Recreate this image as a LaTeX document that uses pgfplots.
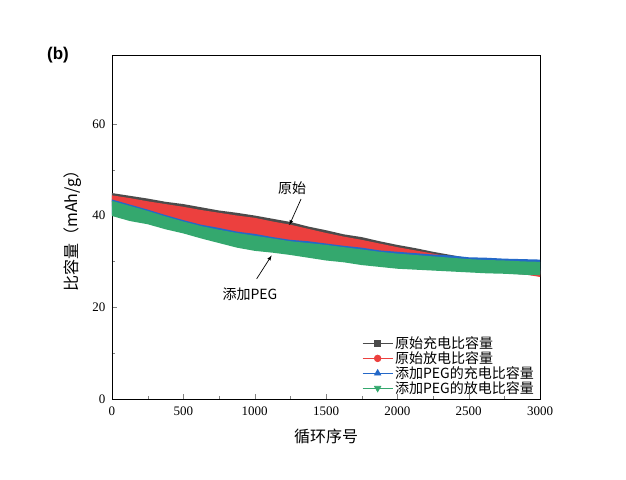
\documentclass[border=0pt]{standalone}
\usepackage{pgfplots}
\pgfplotsset{compat=1.18}
\usepackage{fontspec}
\setmainfont{Liberation Serif}
\newfontfamily\cjk{Noto Sans CJK SC}
\newfontfamily\arialb{Liberation Sans}
\definecolor{cblk}{RGB}{75,75,75}
\definecolor{cred}{RGB}{236,64,62}
\definecolor{cblue}{RGB}{36,104,200}
\definecolor{cgreen}{RGB}{52,168,110}
\begin{document}
\begin{tikzpicture}[x=1pt,y=1pt]
\path[use as bounding box] (-112,-80) rectangle (514,399);
\begin{axis}[
  at={(0,0)}, anchor=south west,
  scale only axis, width=428pt, height=344pt,
  xmin=0, xmax=3000, ymin=0, ymax=75,
  xtick={0,500,...,3000}, ytick={0,20,40,60},
  minor x tick num=1, minor y tick num=1,
  tick align=inside, xtick pos=bottom, ytick pos=left,
  major tick length=5pt, minor tick length=3pt,
  tick label style={font=\fontsize{13}{14}\selectfont},
  xticklabel style={yshift=-4pt},
  yticklabel style={xshift=-3pt},
  /pgf/number format/assume math mode=true,
  /pgf/number format/1000 sep={},
  xlabel={\cjk\fontsize{16}{17}\selectfont 循环序号},
  ylabel={\cjk\fontsize{16}{17}\selectfont 比容量（mAh/g）},
  xlabel style={at={(axis description cs:0.5,-0.108)}, anchor=center},
  ylabel style={at={(axis description cs:-0.091,0.5)}, anchor=center},
  axis line style={line width=0.8pt},
  legend style={at={(rel axis cs:1,0)}, anchor=south east, xshift=-3pt, yshift=1pt,
    draw=none, fill=none,
    font=\cjk\fontsize{14}{15}\selectfont, row sep=-2.5pt, inner sep=1pt},
  legend cell align=left,
  legend image code/.code={\draw[mark repeat=2,mark phase=2,#1] plot coordinates {(0pt,0pt)(15pt,0pt)(30pt,0pt)};},
]
% original charge (black)
\addplot[fill=cblk, draw=none, forget plot] coordinates {
(0,44.9) (125,44.3) (250,43.7) (375,43.0) (500,42.5) (625,41.8) (750,41.1) (875,40.6) (1000,40.0) (1125,39.3) (1250,38.6) (1375,37.6) (1500,36.8) (1625,35.9) (1750,35.3) (1875,34.4) (2000,33.6) (2125,32.9) (2250,32.1) (2375,31.4) (2500,30.7) (2625,30.0) (2750,29.4) (2875,28.9) (3000,28.4)
(3000,26.8) (2750,27.5) (2500,28.8) (2250,30.2) (2000,31.6) (1750,33.2) (1500,34.7) (1250,36.5) (1000,37.9) (750,39.1) (500,40.4) (250,41.6) (0,42.9)} -- cycle;
% original discharge (red)
\addplot[fill=cred, draw=none, forget plot] coordinates {
(0,44.4) (125,43.8) (250,43.1) (375,42.5) (500,41.9) (625,41.2) (750,40.6) (875,40.0) (1000,39.5) (1125,38.7) (1250,38.0) (1375,37.1) (1500,36.2) (1625,35.4) (1750,34.7) (1875,33.9) (2000,33.1) (2125,32.4) (2250,31.7) (2375,31.0) (2500,30.3) (2625,29.6) (2750,29.0) (2875,28.5) (3000,28.0)
(3000,26.6) (2875,27.3) (2750,28.0) (2625,28.6) (2500,29.2) (2375,29.8) (2250,30.3) (2125,30.8) (2000,31.3) (1875,31.8) (1750,32.3) (1625,32.8) (1500,33.3) (1375,33.7) (1250,34.2) (1125,34.7) (1000,35.2) (875,35.8) (750,36.5) (625,37.3) (500,38.2) (375,39.1) (250,40.0) (125,41.0) (0,42.0)} -- cycle;
% PEG charge (blue)
\addplot[fill=cblue, draw=none, forget plot] coordinates {
(0,43.5) (125,42.4) (250,41.3) (375,40.1) (500,39.0) (625,38.0) (750,37.3) (875,36.5) (1000,36.0) (1125,35.3) (1250,34.7) (1375,34.4) (1500,33.9) (1625,33.4) (1750,33.0) (1875,32.4) (2000,32.1) (2125,31.8) (2250,31.5) (2375,31.3) (2500,30.9) (2625,30.8) (2750,30.6) (2875,30.5) (3000,30.4)
(3000,27.3) (2750,27.6) (2500,27.9) (2250,28.3) (2000,28.7) (1750,29.5) (1500,30.5) (1250,31.7) (1000,32.6) (750,34.3) (500,36.5) (250,38.4) (0,40.2)} -- cycle;
% PEG discharge (green)
\addplot[fill=cgreen, draw=none, forget plot] coordinates {
(0,43.2) (125,42.1) (250,41.0) (375,39.8) (500,38.7) (625,37.7) (750,36.9) (875,36.2) (1000,35.6) (1125,35.0) (1250,34.4) (1375,34.0) (1500,33.6) (1625,33.1) (1750,32.6) (1875,32.1) (2000,31.7) (2125,31.4) (2250,31.1) (2375,30.8) (2500,30.5) (2625,30.3) (2750,30.2) (2875,30.0) (3000,29.9)
(3000,27.0) (2875,27.1) (2750,27.3) (2625,27.4) (2500,27.6) (2375,27.8) (2250,28.0) (2125,28.2) (2000,28.4) (1875,28.8) (1750,29.2) (1625,29.8) (1500,30.2) (1375,30.8) (1250,31.4) (1125,31.9) (1000,32.3) (875,33.0) (750,34.0) (625,35.0) (500,36.1) (375,37.0) (250,38.1) (125,38.8) (0,39.9)} -- cycle;
\addlegendimage{cblk, line width=0.8pt, mark=square*, mark size=3pt}
\addlegendentry{原始充电比容量}
\addlegendimage{cred, line width=0.8pt, mark=*, mark size=3.3pt}
\addlegendentry{原始放电比容量}
\addlegendimage{cblue, line width=0.8pt, mark=triangle*, mark size=3.6pt}
\addlegendentry{添加PEG的充电比容量}
\addlegendimage{cgreen, line width=0.8pt, mark=triangle*, mark options={rotate=180}, mark size=3.6pt}
\addlegendentry{添加PEG的放电比容量}
\node[font=\cjk\fontsize{14}{15}\selectfont] at (axis cs:1262,45.9) {原始};
\draw[-{latex}, line width=0.7pt] (axis cs:1325,43.6) -- (axis cs:1243,37.9);
\node[font=\cjk\fontsize{14}{15}\selectfont] at (axis cs:967,22.9) {添加PEG};
\draw[-{latex}, line width=0.7pt] (axis cs:1014,26.2) -- (axis cs:1119,31.3);
\end{axis}
\node[font=\arialb\bfseries\fontsize{17}{18}\selectfont] at (-54,344) {(b)};
\end{tikzpicture}
\end{document}
